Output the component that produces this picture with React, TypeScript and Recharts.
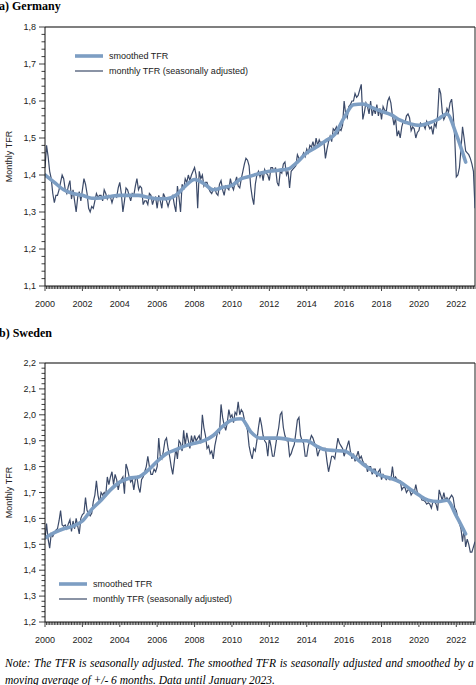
import { LineChart, Line, XAxis, YAxis, Legend, ReferenceLine } from "recharts"

// monthly TFR, seasonally adjusted, Jan 2000 .. Jan 2023 (one row per year)
const germanyMonthly = [
  1.42, 1.48, 1.45, 1.41, 1.39, 1.35, 1.325, 1.345, 1.345, 1.36, 1.38, 1.40,
  1.39, 1.36, 1.35, 1.37, 1.385, 1.335, 1.36, 1.33, 1.30, 1.34, 1.355, 1.33,
  1.36, 1.39, 1.375, 1.35, 1.31, 1.30, 1.315, 1.31, 1.33, 1.35, 1.34, 1.345,
  1.345, 1.33, 1.36, 1.35, 1.335, 1.345, 1.34, 1.325, 1.34, 1.345, 1.34, 1.365,
  1.38, 1.35, 1.30, 1.33, 1.365, 1.36, 1.345, 1.33, 1.35, 1.345, 1.37, 1.39,
  1.36, 1.37, 1.365, 1.32, 1.33, 1.33, 1.32, 1.35, 1.345, 1.32, 1.335, 1.34,
  1.31, 1.345, 1.33, 1.31, 1.35, 1.34, 1.33, 1.315, 1.33, 1.34, 1.345, 1.32,
  1.30, 1.37, 1.34, 1.30, 1.375, 1.36, 1.39, 1.38, 1.40, 1.385, 1.40, 1.41,
  1.42, 1.40, 1.31, 1.41, 1.39, 1.40, 1.37, 1.38, 1.38, 1.365, 1.355, 1.35,
  1.36, 1.365, 1.35, 1.345, 1.375, 1.385, 1.36, 1.345, 1.37, 1.365, 1.36, 1.39,
  1.37, 1.36, 1.38, 1.395, 1.37, 1.365, 1.39, 1.41, 1.43, 1.445, 1.44, 1.425,
  1.37, 1.34, 1.32, 1.375, 1.40, 1.41, 1.395, 1.41, 1.385, 1.415, 1.405, 1.40,
  1.385, 1.42, 1.42, 1.41, 1.42, 1.38, 1.37, 1.41, 1.405, 1.43, 1.435, 1.40,
  1.41, 1.365, 1.41, 1.415, 1.42, 1.425, 1.455, 1.445, 1.44, 1.45, 1.46, 1.45,
  1.47, 1.46, 1.48, 1.475, 1.49, 1.47, 1.50, 1.48, 1.495, 1.485, 1.49, 1.49,
  1.445, 1.47, 1.49, 1.505, 1.49, 1.525, 1.52, 1.53, 1.51, 1.525, 1.52, 1.535,
  1.60, 1.565, 1.555, 1.585, 1.59, 1.60, 1.60, 1.62, 1.61, 1.615, 1.63, 1.645,
  1.55, 1.57, 1.595, 1.585, 1.565, 1.60, 1.56, 1.58, 1.565, 1.59, 1.56, 1.58,
  1.55, 1.585, 1.575, 1.57, 1.60, 1.61, 1.595, 1.56, 1.535, 1.555, 1.505, 1.52,
  1.50, 1.53, 1.545, 1.54, 1.56, 1.565, 1.555, 1.52, 1.53, 1.525, 1.50, 1.515,
  1.52, 1.54, 1.535, 1.535, 1.525, 1.545, 1.535, 1.525, 1.53, 1.51, 1.54, 1.53,
  1.56, 1.635, 1.62, 1.57, 1.55, 1.56, 1.58, 1.57, 1.595, 1.605, 1.565, 1.50,
  1.395, 1.40, 1.42, 1.47, 1.53, 1.50, 1.465, 1.46, 1.455, 1.445, 1.43, 1.41,
  1.31,
]

// smoothed TFR, half-year steps Jan 2000 .. Jul 2022
const germanySmoothed = [
  1.40, 1.38, 1.36, 1.35, 1.345, 1.337, 1.338, 1.342, 1.345, 1.345,
  1.345, 1.34, 1.336, 1.336, 1.345, 1.37, 1.388, 1.377, 1.36, 1.366,
  1.372, 1.39, 1.397, 1.405, 1.41, 1.413, 1.416, 1.435, 1.46, 1.475,
  1.492, 1.51, 1.555, 1.59, 1.592, 1.582, 1.572, 1.563, 1.548, 1.539,
  1.534, 1.54, 1.55, 1.565, 1.51, 1.435,
]

const swedenMonthly = [
  1.52, 1.58, 1.52, 1.485, 1.54, 1.53, 1.545, 1.555, 1.56, 1.59, 1.63, 1.575,
  1.57, 1.575, 1.56, 1.58, 1.595, 1.55, 1.59, 1.56, 1.60, 1.57, 1.54, 1.60,
  1.615, 1.62, 1.68, 1.63, 1.62, 1.61, 1.62, 1.665, 1.69, 1.745, 1.69, 1.66,
  1.70, 1.69, 1.70, 1.69, 1.76, 1.73, 1.76, 1.78, 1.73, 1.77, 1.75, 1.71,
  1.74, 1.75, 1.76, 1.695, 1.81, 1.79, 1.76, 1.74, 1.75, 1.71, 1.75, 1.76,
  1.72, 1.70, 1.75, 1.76, 1.78, 1.80, 1.84, 1.80, 1.77, 1.77, 1.79, 1.78,
  1.80, 1.91, 1.84, 1.83, 1.86, 1.90, 1.91, 1.87, 1.84, 1.80, 1.77, 1.82,
  1.87, 1.83, 1.90, 1.89, 1.86, 1.94, 1.88, 1.93, 1.90, 1.87, 1.92, 1.89,
  1.92, 1.90, 1.91, 1.92, 1.89, 2.00, 1.95, 1.92, 1.87, 1.88, 1.85, 1.86,
  1.83, 1.88, 1.91, 1.94, 1.93, 2.04, 1.99, 1.96, 1.94, 1.97, 2.02, 1.99,
  2.00, 1.97, 2.01, 2.00, 2.05, 2.00, 2.02, 2.01, 1.98, 1.96, 1.94, 1.88,
  1.85, 1.83, 1.87, 1.86, 1.90, 1.95, 1.99, 1.96, 1.92, 1.90, 1.89, 1.84,
  1.91, 1.88, 1.84, 1.84, 1.88, 1.92, 1.95, 2.00, 2.01, 1.95, 1.92, 1.90,
  1.90, 1.84, 1.85, 1.87, 1.885, 1.93, 1.98, 1.99, 1.92, 1.90, 1.89, 1.84,
  1.84, 1.88, 1.90, 1.92, 1.91, 1.89, 1.88, 1.84, 1.86, 1.87, 1.87, 1.87,
  1.87, 1.82, 1.78, 1.81, 1.84, 1.84, 1.83, 1.87, 1.91, 1.89, 1.88, 1.87,
  1.84, 1.86, 1.88, 1.90, 1.86, 1.83, 1.85, 1.82, 1.84, 1.86, 1.83, 1.84,
  1.82, 1.81, 1.81, 1.78, 1.80, 1.80, 1.77, 1.79, 1.79, 1.76, 1.78, 1.79,
  1.75, 1.77, 1.76, 1.75, 1.76, 1.75, 1.75, 1.80, 1.75, 1.76, 1.75, 1.745,
  1.745, 1.71, 1.72, 1.72, 1.70, 1.71, 1.71, 1.69, 1.70, 1.70, 1.73, 1.70,
  1.69, 1.685, 1.67, 1.67, 1.665, 1.655, 1.66, 1.655, 1.64, 1.665, 1.665, 1.655,
  1.63, 1.71, 1.69, 1.67, 1.70, 1.67, 1.68, 1.67, 1.68, 1.69, 1.68, 1.64,
  1.63, 1.60, 1.58, 1.56, 1.51, 1.56, 1.49, 1.52, 1.50, 1.47, 1.47, 1.49,
  1.51,
]

const swedenSmoothed = [
  1.525, 1.545, 1.56, 1.57, 1.59, 1.635, 1.67, 1.71, 1.74, 1.755,
  1.76, 1.785, 1.82, 1.85, 1.865, 1.88, 1.89, 1.90, 1.92, 1.955,
  1.98, 1.985, 1.935, 1.91, 1.91, 1.91, 1.905, 1.90, 1.90, 1.88,
  1.865, 1.862, 1.86, 1.84, 1.81, 1.785, 1.765, 1.755, 1.74, 1.715,
  1.69, 1.67, 1.665, 1.67, 1.61, 1.54,
]

const yearTicks = [2000, 2002, 2004, 2006, 2008, 2010, 2012, 2014, 2016, 2018, 2020, 2022]
const germanyYTicks = [1.1, 1.2, 1.3, 1.4, 1.5, 1.6, 1.7, 1.8]
const swedenYTicks = [1.2, 1.3, 1.4, 1.5, 1.6, 1.7, 1.8, 1.9, 2.0, 2.1, 2.2]

const seriesNames = { smoothed: "smoothed TFR", monthly: "monthly TFR (seasonally adjusted)" }
const colors = { smoothed: "#7d9ec3", monthly: "#3b4a69", axis: "#111" }

const byMonth = (values: number[]) => values.map((v, i) => ({ t: 2000 + i / 12, v }))
const byHalfYear = (values: number[]) => values.map((v, i) => ({ t: 2000 + i / 2, v }))

// one small tick per month on the time axis
const monthTicks = Array.from({ length: 23 * 12 + 1 }, (_, i) => 2000 + i / 12)

// minor ticks every 0.02 between the labelled ones
const minorTicks = (major: number[]) => {
  const out: number[] = []
  for (let i = 0; i < major.length - 1; i++) {
    for (let k = 0; k < 5; k++) out.push(+(major[i] + (k * (major[i + 1] - major[i])) / 5).toFixed(3))
  }
  out.push(major[major.length - 1])
  return out
}

function XTick(props: any) {
  const { x, y, payload } = props
  const v = payload.value
  const year = Math.round(v)
  const major = Math.abs(v - year) < 1e-6 && yearTicks.includes(year)
  return (
    <g>
      <line x1={x} x2={x} y1={y} y2={y + (major ? 5 : 3)} stroke={colors.axis} strokeWidth={0.8} />
      {major && (
        <text x={x} y={y + 21} textAnchor="middle" fontSize={9} fill="#222">
          {year}
        </text>
      )}
    </g>
  )
}

function YTick(props: any) {
  const { x, y, payload } = props
  const v = payload.value
  const major = Math.abs(v * 10 - Math.round(v * 10)) < 1e-6
  return (
    <g>
      <line x1={x - (major ? 6 : 3.5)} x2={x} y1={y} y2={y} stroke={colors.axis} strokeWidth={0.8} />
      {major && (
        <text x={x - 9} y={y + 3.2} textAnchor="end" fontSize={9} fill="#222">
          {v.toFixed(1).replace(".", ",")}
        </text>
      )}
    </g>
  )
}

function YTitle(props: any) {
  const vb = props.viewBox || {}
  const cy = vb.height ? vb.y + vb.height / 2 : 156
  return (
    <text x={11.5} y={cy} transform={`rotate(-90, 11.5, ${cy})`} textAnchor="middle" fontSize={9} fill="#222">
      Monthly TFR
    </text>
  )
}

function LegendBox() {
  const rows = [
    { label: seriesNames.smoothed, color: colors.smoothed, width: 3.6 },
    { label: seriesNames.monthly, color: colors.monthly, width: 1.2 },
  ]
  return (
    <div>
      {rows.map((r) => (
        <div key={r.label} style={{ display: "flex", alignItems: "center", height: 14.5 }}>
          <svg width={28} height={8}>
            <line x1={0} x2={28} y1={4} y2={4} stroke={r.color} strokeWidth={r.width} />
          </svg>
          <span style={{ marginLeft: 6, fontSize: 9, color: "#222", whiteSpace: "nowrap" }}>{r.label}</span>
        </div>
      ))}
    </div>
  )
}

function Panel({ monthly, smoothed, yTicks, legendPos }: any) {
  const yMin = yTicks[0]
  const yMax = yTicks[yTicks.length - 1]
  return (
    <LineChart width={476} height={320} margin={{ top: 27, right: 1, bottom: 4, left: 0 }}>
      <XAxis
        type="number"
        dataKey="t"
        domain={[2000, 2023]}
        ticks={monthTicks}
        interval={0}
        tick={<XTick />}
        tickLine={false}
        tickSize={0}
        tickMargin={0}
        height={30}
        axisLine={{ stroke: colors.axis, strokeWidth: 1 }}
        allowDataOverflow
      />
      <YAxis
        type="number"
        domain={[yMin, yMax]}
        ticks={minorTicks(yTicks)}
        interval={0}
        tick={<YTick />}
        tickLine={false}
        tickSize={0}
        tickMargin={0}
        width={45}
        axisLine={{ stroke: colors.axis, strokeWidth: 1 }}
        label={<YTitle />}
        allowDataOverflow
      />
      <ReferenceLine y={yMax} stroke="#555" strokeWidth={1.6} />
      <ReferenceLine x={2023} stroke="#222" strokeWidth={1} />
      <Line
        data={byMonth(monthly)}
        dataKey="v"
        name={seriesNames.monthly}
        type="linear"
        stroke={colors.monthly}
        strokeWidth={1.2}
        dot={false}
        isAnimationActive={false}
      />
      <Line
        data={byHalfYear(smoothed)}
        dataKey="v"
        name={seriesNames.smoothed}
        type="monotone"
        stroke={colors.smoothed}
        strokeWidth={3.6}
        strokeLinecap="round"
        dot={false}
        isAnimationActive={false}
      />
      <Legend
        layout="horizontal"
        verticalAlign="middle"
        align="center"
        content={<LegendBox />}
        wrapperStyle={{ left: legendPos.left, top: legendPos.top, width: "auto" }}
      />
    </LineChart>
  )
}

const titleStyle: any = {
  position: "absolute",
  left: -1,
  fontFamily: "'Liberation Serif', 'Times New Roman', serif",
  fontWeight: "bold",
  fontSize: 12,
  color: "#000",
  whiteSpace: "nowrap",
}

const noteStyle: any = {
  position: "absolute",
  left: 5,
  width: 469,
  fontFamily: "'Liberation Serif', 'Times New Roman', serif",
  fontStyle: "italic",
  fontSize: 11.5,
  lineHeight: "16px",
  color: "#000",
  whiteSpace: "nowrap",
}

export default function App() {
  return (
    <div
      style={{
        position: "absolute",
        left: 0,
        top: 0,
        width: 476,
        height: 685,
        background: "#fff",
        overflow: "hidden",
        fontFamily: "'Liberation Sans', Arial, sans-serif",
      }}
    >
      <div style={{ ...titleStyle, top: -1 }}>a) Germany</div>
      <div style={{ position: "absolute", left: 0, top: 0 }}>
        <Panel monthly={germanyMonthly} smoothed={germanySmoothed} yTicks={germanyYTicks} legendPos={{ left: 75, top: 49 }} />
      </div>

      <div style={{ ...titleStyle, top: 326 }}>b) Sweden</div>
      <div style={{ position: "absolute", left: 0, top: 336 }}>
        <Panel monthly={swedenMonthly} smoothed={swedenSmoothed} yTicks={swedenYTicks} legendPos={{ left: 59, top: 241 }} />
      </div>

      <div style={{ ...noteStyle, top: 655, display: "flex", justifyContent: "space-between" }}>
        {"Note: The TFR is seasonally adjusted. The smoothed TFR is seasonally adjusted and smoothed by a"
          .split(" ")
          .map((w, i) => (
            <span key={i}>{w}</span>
          ))}
      </div>
      <div style={{ ...noteStyle, top: 672 }}>moving average of +/- 6 months. Data until January 2023.</div>
    </div>
  )
}
